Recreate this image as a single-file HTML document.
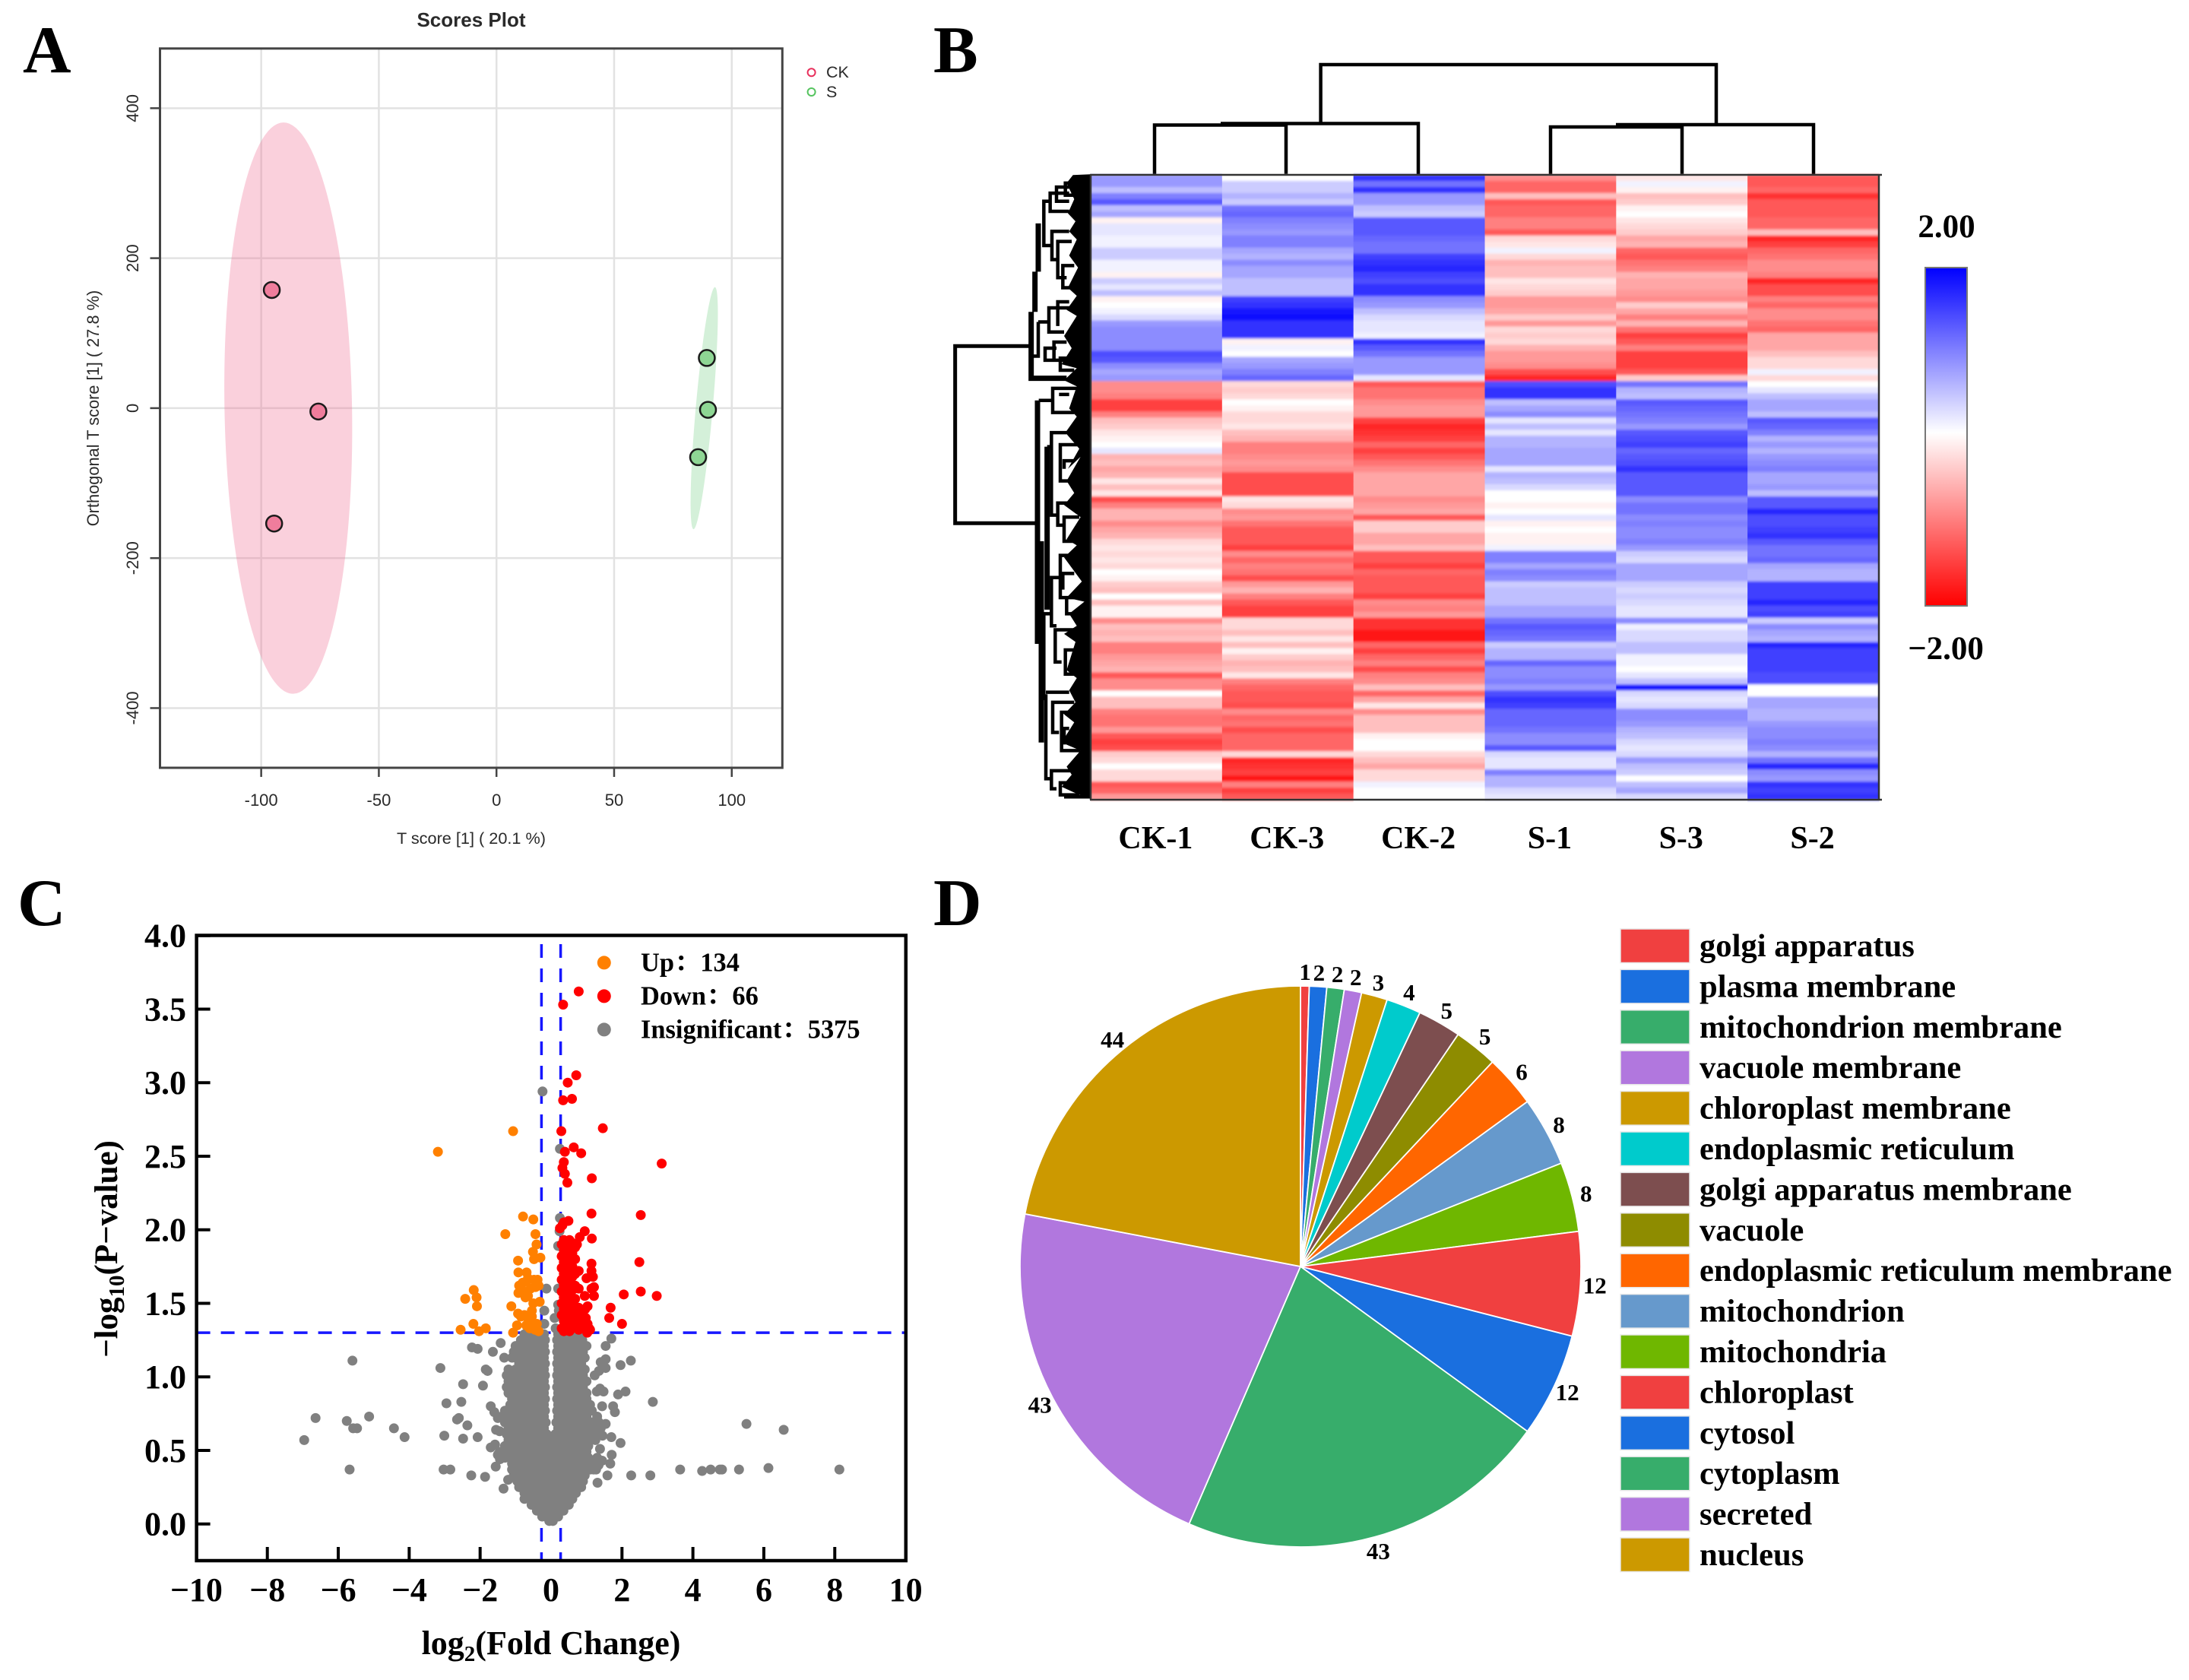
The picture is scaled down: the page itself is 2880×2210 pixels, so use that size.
<!DOCTYPE html>
<html lang="en">
<head>
<meta charset="utf-8">
<title>Metabolomics figure panels</title>
<style>
html,body{margin:0;padding:0;background:#fff;}
svg{display:block;}
.a{font-family:"Liberation Sans",Arial,sans-serif;fill:#2a2a2a;}
.t{font-family:"Liberation Serif","Noto Serif CJK SC",serif;font-weight:bold;fill:#000;}
</style>
</head>
<body>
<svg id="fig" xmlns="http://www.w3.org/2000/svg" width="2880" height="2210" viewBox="0 0 2880 2210">
<rect x="0" y="0" width="2880" height="2210" fill="#fff"/>
<text class="t" x="30" y="95" font-size="88">A</text>
<text class="t" x="1228" y="95" font-size="88">B</text>
<text class="t" x="23" y="1217" font-size="88">C</text>
<text class="t" x="1228" y="1217" font-size="88">D</text>

<g id="panelA"></g>

<g id="panelB">
  <defs>
    <filter id="rowSoften" x="0" y="-1%" width="100%" height="102%" filterUnits="objectBoundingBox">
      <feGaussianBlur stdDeviation="0 1.6"/>
    </filter>
    <linearGradient id="cbGrad" x1="0" y1="0" x2="0" y2="1">
      <stop offset="0" stop-color="#0000ff"/>
      <stop offset=".488" stop-color="#ffffff"/>
      <stop offset="1" stop-color="#ff0000"/>
    </linearGradient>
  </defs>
  <path fill="none" stroke="#000" stroke-width="4.5" d="M1519 230V164.5H1692V230M1606 162.5H1866V230M1737.6 162V85H2258V163M2040 230V167H2213V230M2126 164H2386V230"/>
  <g transform="translate(1240 225) scale(.33333 .52941)">
    <path fill="#000" d="M585 8L515 10L490 30L520 70L495 105L525 125L500 150L530 170L500 210L535 240L495 290L530 310L490 345L530 360L480 410L510 440L470 480L530 490L480 520L530 535L500 590L530 610L485 650L540 690L495 740L545 710L490 770L520 800L480 830L545 860L490 915L530 930L480 960L550 1020L490 1060L560 1070L500 1100L530 1130L480 1150L525 1170L490 1240L530 1260L500 1290L525 1320L480 1350L520 1370L470 1420L545 1440L490 1480L510 1500L470 1530L540 1550L585 1558Z"/>
    <path fill="none" stroke="#000" stroke-width="5" vector-effect="non-scaling-stroke" d="M345 435H50V875H370"/>
    <path fill="none" stroke="#000" stroke-width="7" vector-effect="non-scaling-stroke" d="M350 350V515H490M365 250V350M378 130V250M375 570V1175M390 920V1420M413 685V1090"/>
    <path fill="none" stroke="#000" stroke-width="4.5" vector-effect="non-scaling-stroke" d="M540 30H485V60H540M500 40H450V75H500M500 55H425V100H500M430 75H400V185H430M500 150H432V220H460M510 175H455V265H490M520 235H475V290H520M378 375H420M525 340H420V400H480M500 325H455V385M360 460H378V375M450 440H405V470H450M490 425H440V470H490M520 465H465V495H520M380 570H435M530 540H435V600H520M460 555H500M413 685H430M490 650H430V855H450M540 680H465V770H495M520 720H480V740M520 825H455V880H480M540 860H480V920H520M390 1100H430M400 1100V1315M460 1010H430V1130H450M510 955H465V1060H560M520 1000H475V1040M525 1100H490V1060M520 1140H445V1220H470M530 1190H485V1250H530M408 1300V1510H430M500 1295H408M520 1320H435V1395H460M510 1345H470V1440H545M500 1385H480V1425M510 1490H430V1535H450M540 1520H465V1550H540M480 1555H585"/>
  </g>
  <g id="heatCells" filter="url(#rowSoften)"></g>
  <path fill="none" stroke="#333" stroke-width="2.5" d="M1434 230H2476M1434 1052H2476M2472 230V1052M1435 230V1052"/>
  <g id="heatLabels"></g>
  <rect x="2533" y="352" width="55" height="445" fill="url(#cbGrad)" stroke="#777" stroke-width="2"/>
  <text class="t" x="2561" y="312" font-size="43" text-anchor="middle">2.00</text>
  <text class="t" x="2560" y="867" font-size="43" text-anchor="middle">−2.00</text>
</g>

<g id="panelC"></g>
<g id="panelD"></g>
</svg>

<script>
/* ---------- Panel A data ---------- */
var scoreXTicks = [-100, -50, 0, 50, 100];
var scoreYTicks = [400, 200, 0, -200, -400];
var ckScoreX = [-95.5, -75.7, -94.5];
var ckScoreY = [157.6, -4.5, -153.9];
var sScoreX = [89.4, 89.9, 85.7];
var sScoreY = [66.9, -2.2, -65.4];
var ckEllipse = [-88.5, 0, 27.1, 381, -1];
var sEllipse = [88.3, 0, 3.6, 162, 5.07];

/* ---------- Panel B data (z-score x 10, one value per row) ---------- */
var heatColumns = ['CK-1', 'CK-3', 'CK-2', 'S-1', 'S-3', 'S-2'];
var heatCK1 = [8,8,5,10,13,5,7,-1,2,2,1,1,4,4,1,1,-1,4,2,5,-1,0,1,3,8,9,9,9,9,14,13,9,7,8,-9,-9,-10,-15,-15,-10,-5,-4,-2,-1,0,2,-6,-5,-7,-6,-2,
-5,-2,-14,-10,-6,-6,-9,-7,-6,-3,-2,-3,-2,-3,0,-1,-4,-5,0,-5,-1,-1,-9,-5,-6,-5,-10,-10,-8,-7,-6,-13,-9,-9,0,-5,-5,-10,-11,-11,-8,-13,-15,-14,-4,-3,0,-3,-3,-13,-12,-8];
var heatCK3 = [0,4,4,6,4,11,12,10,9,8,10,10,7,6,9,7,7,5,5,5,15,16,18,19,16,16,16,-1,1,0,7,8,10,12,-3,-4,-3,0,-1,-3,-3,-2,-5,-6,-10,-10,-9,-8,-9,-14,-14,
-14,-14,-2,-3,-9,-8,-11,-13,-13,-13,-15,-9,-12,-10,-11,-14,-8,-6,-10,-13,-15,-15,-3,-3,-5,-2,-5,-1,-4,-6,-5,-2,-10,-12,-13,-13,-14,-9,-12,-11,-14,-12,-12,-12,-3,-17,-16,-15,-18,-10,-15,-13];
var heatCK2 = [16,11,16,8,8,5,4,13,13,13,12,11,11,15,16,17,15,14,16,16,9,8,5,3,2,2,1,16,13,11,8,8,8,2,-13,-11,-11,-9,-8,-8,-15,-17,-16,-15,-12,-15,-13,-11,-9,-7,-7,
-7,-7,-9,-8,-7,-13,-4,-4,-7,-7,-5,-13,-13,-15,-12,-13,-13,-13,-15,-9,-10,-8,-16,-16,-18,-18,-12,-15,-12,-10,-14,-10,-9,-5,-12,-7,-2,-9,-5,-5,-5,-1,0,0,-3,-5,-7,-3,-3,1,0,0];
var heatS1 = [-9,-12,-12,-5,-13,-12,-12,-10,-10,-13,-3,-2,1,-3,-6,-5,-5,-2,-3,-4,-8,-8,-7,-4,-8,-3,-4,-3,-6,-8,-8,-9,-14,-17,14,16,16,5,7,9,2,5,2,6,6,7,7,7,2,6,5,
3,0,0,-1,0,2,-1,0,-1,-1,1,10,10,7,10,9,4,5,5,5,7,7,11,13,12,11,4,6,6,12,9,9,10,8,14,16,15,12,12,12,11,9,9,13,3,2,2,10,6,6,3,2];
var heatS3 = [-2,1,-1,-5,-4,-1,0,-2,-3,-4,-7,-6,-12,-13,-11,-10,-6,-7,-7,-8,-9,-4,-7,-10,-6,-11,-15,-13,-10,-15,-15,-15,-13,-4,11,6,5,13,12,11,10,8,13,14,15,12,13,14,16,13,13,
13,13,9,11,11,9,10,9,9,10,8,4,3,7,7,7,4,3,4,3,2,2,9,1,3,3,5,5,1,1,0,2,5,18,3,2,3,9,9,8,6,5,3,2,3,8,5,4,0,5,7,3];
var heatS2 = [-13,-13,-12,-16,-13,-13,-13,-12,-12,-5,-17,-15,-12,-11,-9,-9,-10,-17,-14,-14,-10,-12,-9,-9,-11,-12,-7,-7,-7,-5,-3,-3,1,-3,0,2,5,7,7,5,13,12,10,6,8,6,8,9,10,7,7,
8,5,13,13,17,14,14,15,16,13,11,11,12,7,6,6,15,15,15,17,14,15,4,9,7,6,17,15,15,15,15,14,14,0,0,7,7,6,6,8,9,9,10,9,6,11,17,9,8,16,15,16];

/* ---------- Panel C data ---------- */
var volcanoXTicks = [-10, -8, -6, -4, -2, 0, 2, 4, 6, 8, 10];
var volcanoYTicks = [0, 0.5, 1, 1.5, 2, 2.5, 3, 3.5, 4];
var foldChangeCut = [-0.27, 0.27];
var pValueCut = [1.3];
var legendCounts = [134, 66, 5375];
var upPoints = [[-3.19,2.53],[-1.07,2.67],[-.79,2.09],[-.5,2.07],[-1.29,1.97],[-.44,1.97],[-.41,1.9],[-.51,1.85],[-.3,1.81],[-.48,1.8],[-.93,1.79],[-.92,1.71],[-.69,1.71],[-.65,1.67],[-.9,1.62],[-.8,1.64],[-.69,1.65],[-.48,1.66],[-.38,1.66],[-.35,1.62],[-.92,1.57],[-.65,1.55],[-.72,1.54],[-.84,1.6],[-.76,1.58],[-.58,1.6],[-.44,1.61],[-2.18,1.59],[-2.42,1.53],[-2.1,1.54],[-2.09,1.48],[-1.12,1.48],[-.5,1.5],[-.32,1.51],[-.93,1.43],[-.75,1.42],[-.54,1.45],[-.54,1.41],[-.64,1.37],[-.5,1.36],[-.4,1.36],[-.7,1.35],[-.6,1.33],[-.45,1.32],[-2.19,1.36],[-2.55,1.32],[-2.03,1.31],[-1.84,1.33],[-.96,1.35],[-1.07,1.3],[-.35,1.31],[-.85,1.41]];
var downPoints = [[.78,3.62],[.34,3.53],[.71,3.05],[.47,3],[.59,2.89],[.34,2.88],[.29,2.67],[1.46,2.69],[.64,2.56],[.85,2.52],[.39,2.53],[3.12,2.45],[.36,2.46],[.32,2.42],[.39,2.38],[1.15,2.35],[.46,2.32],[1.14,2.11],[2.53,2.1],[.49,2.06],[.36,2.05],[.32,2.03],[.25,2.01],[.95,1.99],[1.15,1.94],[.81,1.95],[.73,1.9],[2.49,1.78],[2.53,1.58],[2.98,1.55],[2.05,1.56],[1.68,1.47],[1.64,1.4],[2,1.36],[1.14,1.77],[1.14,1.72],[1.18,1.68],[1,1.67],[1.21,1.61],[1.14,1.6],[1.21,1.55],[.95,1.55],[1.03,1.48],[.96,1.46],[.75,1.38],[1.03,1.36],[1.07,1.33],[.75,1.34],
[.3,1.33],[.3,1.42],[.3,1.5],[.3,1.58],[.3,1.66],[.3,1.74],[.3,1.82],[.3,1.9],[.36,1.31],[.36,1.38],[.36,1.46],[.36,1.54],[.36,1.62],[.36,1.7],[.36,1.78],[.36,1.86],[.36,1.93],[.44,1.34],[.44,1.41],[.44,1.49],[.44,1.57],[.44,1.65],[.44,1.73],[.44,1.81],[.44,1.89],[.52,1.31],[.52,1.39],[.52,1.47],[.52,1.55],[.52,1.63],[.52,1.71],[.52,1.79],[.52,1.87],[.52,1.93],[.6,1.33],[.6,1.42],[.6,1.5],[.6,1.59],[.6,1.68],[.6,1.75],[.6,1.84],[.6,1.91],[.68,1.35],[.68,1.44],[.68,1.53],[.68,1.62],[.68,1.7],[.68,1.8],[.68,1.88],[.78,1.32],[.78,1.42],[.78,1.47],[.78,1.6],[.78,1.72],[.85,1.36],[.9,1.45],[.95,1.33],[.98,1.4],[1.02,1.3],[1.1,1.32]];
var insigScatter = [[-5.6,1.11],[-3.12,1.06],[-2.23,1.2],[-2.07,1.19],[-1.42,1.23],[-1.64,1.17],[-1.32,1.13],[-1.84,1.05],[-1.79,1.04],[-2.48,.95],[-1.92,.94],[-2.95,.82],[-2.53,.83],[-6.64,.72],[-5.76,.7],[-5.13,.73],[-5.58,.65],[-5.47,.65],[-4.43,.65],[-4.13,.59],[-6.96,.57],[-2.65,.71],[-2.6,.72],[-2.36,.67],[-3.01,.6],[-2.48,.58],[-2.07,.59],[-5.68,.37],[-3.03,.37],[-2.84,.37],[-2.25,.33],[-1.86,.32],[-1.56,.39],[-1.21,.3],[-1.34,.24],[-1.7,.52],[-1.58,.54],[-1.5,.47],[-1.44,.44],[-1.7,.8],[-1.6,.76],[-1.5,.72],[-1.55,.64],[-1.45,.63],
[1.7,1.26],[1.54,1.21],[2.25,1.11],[1.96,1.08],[1.54,1.12],[1.4,1.1],[1.54,1.06],[1.35,1.04],[1.23,1.01],[1.38,.92],[1.48,.9],[1.29,.9],[2.1,.9],[1.89,.88],[2.87,.83],[1.8,.76],[1.75,.8],[1.44,.8],[1.54,.68],[1.45,.6],[1.7,.59],[1.96,.55],[1.38,.51],[1.71,.47],[1.67,.41],[1.27,.37],[1.44,.43],[1.34,.4],[1.59,.33],[1.31,.28],[2.26,.33],[2.8,.33],[3.64,.37],[4.26,.36],[4.5,.37],[4.76,.37],[4.82,.37],[5.3,.37],[6.13,.38],[8.13,.37],[5.51,.68],[6.56,.64],
[-.24,2.94],[.25,2.55],[.25,2.08],[.24,1.99],[.2,1.89],[-.13,1.6],[.2,1.6],[.2,1.49],[-.19,1.45],[.22,1.45],[.1,1.4],[-.19,1.36],[.13,1.33]];
var insigRowY = [1.29,1.25,1.21,1.17,1.13,1.09,1.05,1.01,.97,.93,.89,.85,.81,.77,.73,.69,.65,.61,.57,.53,.49,.45,.41,.37,.33,.29,.25,.21,.17,.13,.09,.05,.02];
var insigRowX = [
[-.75,-.55,-.35,-.2,.2,.4,.6,.8],
[-.85,-.65,-.45,-.3,-.17,.17,.3,.5,.7,.88],
[-1,-.8,-.6,-.4,-.2,.2,.4,.6,.8,1],
[-1.05,-.9,-.7,-.5,-.3,-.17,.17,.3,.5,.7,.9],
[-1.1,-1,-.8,-.6,-.4,-.2,.2,.4,.6,.8,.95],
[-.9,-.7,-.5,-.3,-.17,.17,.3,.5,.7,.85],
[-1.2,-1,-.8,-.6,-.4,-.2,.2,.4,.6,.8,.95],
[-1.25,-1.1,-.9,-.7,-.5,-.3,-.17,.17,.3,.5,.7,.9],
[-1.2,-1,-.8,-.6,-.4,-.2,.2,.4,.6,.8,1],
[-1.25,-1.1,-.9,-.7,-.5,-.3,-.17,.17,.3,.5,.7,.9],
[-1.2,-1,-.8,-.6,-.4,-.2,.2,.4,.6,.8,1],
[-1.1,-.9,-.7,-.5,-.3,-.17,.17,.3,.5,.7,.9,1],
[-1.15,-1,-.8,-.6,-.4,-.2,.2,.4,.6,.8,1,1.1],
[-1.3,-1.1,-.9,-.7,-.5,-.3,-.17,.17,.3,.5,.7,.9,1.15],
[-1.4,-1.2,-1,-.8,-.6,-.4,-.2,.2,.4,.6,.8,1,1.3],
[-1.3,-1.1,-.9,-.7,-.5,-.3,-.15,.15,.3,.5,.7,.9,1.15,1.35],
[-1.2,-1,-.8,-.6,-.4,-.2,.2,.4,.6,.8,1,1.2,1.4],
[-1.25,-1.1,-.9,-.7,-.5,-.3,-.12,.12,.3,.5,.7,.9,1.1,1.3],
[-1.2,-1,-.8,-.6,-.4,-.2,0,.2,.4,.6,.8,1,1.25],
[-1.3,-1.1,-.9,-.7,-.5,-.3,-.1,.1,.3,.5,.7,.9,1.05],
[-1.45,-1.2,-1,-.8,-.6,-.4,-.2,0,.2,.4,.6,.8,1],
[-1.3,-1.1,-.9,-.7,-.5,-.3,-.1,.1,.3,.5,.7,.9,1.05,1.3],
[-1.1,-1,-.8,-.6,-.4,-.2,0,.2,.4,.6,.8,1,1.25],
[-1.1,-.9,-.7,-.5,-.3,-.1,.1,.3,.5,.7,.9,1.1,1.2],
[-1.05,-.8,-.6,-.4,-.2,0,.2,.4,.6,.8,.95],
[-.95,-.7,-.5,-.3,-.1,.1,.3,.5,.7,.9],
[-.9,-.8,-.6,-.4,-.2,0,.2,.4,.6,.85],
[-.75,-.5,-.3,-.1,.1,.3,.5,.7],
[-.75,-.6,-.4,-.2,0,.2,.4,.6],
[-.55,-.3,-.1,.1,.3,.5],
[-.4,-.2,0,.2,.35],
[-.25,-.15,.05,.2],
[-.05,.05]];

/* ---------- Panel D data ---------- */
var pieCategories = ['golgi apparatus','plasma membrane','mitochondrion membrane','vacuole membrane','chloroplast membrane','endoplasmic reticulum','golgi apparatus membrane','vacuole','endoplasmic reticulum membrane','mitochondrion','mitochondria','chloroplast','cytosol','cytoplasm','secreted','nucleus'];
var pieValues = [1,2,2,2,3,4,5,5,6,8,8,12,12,43,43,44];
var pieColors = ['#f04040','#1a6fdf','#37ad6b','#b177de','#cc9900','#00cbcc','#7d4e4f','#8e8c00','#ff6600','#6699cc','#6fb700','#f04040','#1a6fdf','#37ad6b','#b177de','#cc9900'];

/* ---------- helpers ---------- */
var NS = 'http://www.w3.org/2000/svg';
function make(tag, props, parent) {
  var el = document.createElementNS(NS, tag);
  for (var k in props) { el.setAttribute(k, props[k]); }
  parent.appendChild(el);
  return el;
}
var el;

/* ---------- Panel A ---------- */
var gA = document.getElementById('panelA');
var aLeft = 210.5, aRight = 1029.3, aTop = 63.8, aBottom = 1010;
function ax(v) { return 653.2 + 3.0955 * v; }
function ay(v) { return 536.9 - 0.9864 * v; }
scoreXTicks.forEach(function (t) {
  el = make('line', {x1: ax(t), x2: ax(t), y1: aTop, y2: aBottom, stroke: '#e2e2e2', 'stroke-width': 2.5}, gA);
  
  
});
scoreYTicks.forEach(function (t) {
  el = make('line', {x1: aLeft, x2: aRight, y1: ay(t), y2: ay(t), stroke: '#e2e2e2', 'stroke-width': 2.5}, gA);
  
  
});
function drawEllipse(p, fill) {
  var cx = ax(p[0]), cy = ay(p[1]);
  return make('ellipse', {cx: cx, cy: cy, rx: p[2] * 3.0955, ry: p[3] * 0.9864, fill: fill, transform: 'rotate(' + p[4] + ' ' + cx + ' ' + cy + ')'}, gA);
}
el = drawEllipse(ckEllipse, 'rgba(240,100,140,.3)');


el = drawEllipse(sEllipse, 'rgba(100,200,120,.28)');


ckScoreX.forEach(function (x, i) {
  el = make('circle', {cx: ax(x), cy: ay(ckScoreY[i]), r: 10.5, fill: '#ef7d9c', stroke: '#1a1a1a', 'stroke-width': 2.5}, gA);
  
  
});
sScoreX.forEach(function (x, i) {
  el = make('circle', {cx: ax(x), cy: ay(sScoreY[i]), r: 10.5, fill: '#8ed694', stroke: '#1a1a1a', 'stroke-width': 2.5}, gA);
  
  
});
el = make('rect', {x: aLeft, y: aTop, width: aRight - aLeft, height: aBottom - aTop, fill: 'none', stroke: '#444', 'stroke-width': 3}, gA);


scoreXTicks.forEach(function (t) {
  el = make('line', {x1: ax(t), x2: ax(t), y1: aBottom, y2: aBottom + 12, stroke: '#444', 'stroke-width': 2.5}, gA);
  
  
  el = make('text', {x: ax(t), y: 1060, 'font-size': 22, 'text-anchor': 'middle', 'class': 'a'}, gA);
  el.textContent = t;
  
  
});
scoreYTicks.forEach(function (t) {
  el = make('line', {x1: aLeft - 13, x2: aLeft, y1: ay(t), y2: ay(t), stroke: '#444', 'stroke-width': 2.5}, gA);
  
  
  el = make('text', {transform: 'translate(182 ' + ay(t) + ') rotate(-90)', 'font-size': 22, 'text-anchor': 'middle', 'class': 'a'}, gA);
  el.textContent = t;
  
  
});
el = make('text', {x: 620, y: 35, 'font-size': 26, 'font-weight': 'bold', 'text-anchor': 'middle', 'class': 'a'}, gA);
el.textContent = 'Scores Plot';


el = make('text', {x: 620, y: 1110, 'font-size': 21.7, 'text-anchor': 'middle', 'class': 'a'}, gA);
el.textContent = 'T score [1] ( 20.1 %)';


el = make('text', {transform: 'translate(130 537) rotate(-90)', 'font-size': 21.8, 'text-anchor': 'middle', 'class': 'a'}, gA);
el.textContent = 'Orthogonal T score [1] ( 27.8 %)';


el = make('circle', {cx: 1067.6, cy: 95.3, r: 5, fill: 'none', stroke: '#e8305c', 'stroke-width': 2}, gA);


el = make('circle', {cx: 1067.6, cy: 121, r: 5, fill: 'none', stroke: '#55c45f', 'stroke-width': 2}, gA);


el = make('text', {x: 1087, y: 102, 'font-size': 21.5, 'class': 'a'}, gA);
el.textContent = 'CK';


el = make('text', {x: 1087, y: 128, 'font-size': 21.5, 'class': 'a'}, gA);
el.textContent = 'S';



/* ---------- Panel B ---------- */
var heatCells = document.getElementById('heatCells');
var heatLabels = document.getElementById('heatLabels');
var heatData = [heatCK1, heatCK3, heatCK2, heatS1, heatS3, heatS2];
var hLeft = 1435, hTop = 230, hWidth = 1037, hHeight = 822;
function heatX(i) { return hLeft + i * hWidth / heatColumns.length; }
function heatY(r, n) { return hTop + r * hHeight / n; }
function heatColor(v) {
  var t = Math.min(1, Math.abs(v) / 20);
  var c = Math.round(255 * (1 - t));
  return v >= 0 ? 'rgb(' + c + ',' + c + ',255)' : 'rgb(255,' + c + ',' + c + ')';
}
heatData.forEach(function (col, i) {
  col.forEach(function (v, r) {
    el = make('rect', {x: heatX(i), y: heatY(r, col.length), width: hWidth / heatColumns.length + .5, height: hHeight / col.length + .5, fill: heatColor(v)}, heatCells);
    
    
  });
  el = make('text', {x: heatX(i) + hWidth / heatColumns.length / 2 - 1, y: 1116, 'font-size': 42, 'text-anchor': 'middle', 'class': 't'}, heatLabels);
  el.textContent = heatColumns[i];
  
  
});

/* ---------- Panel C ---------- */
var gC = document.getElementById('panelC');
var cLeft = 258.6, cRight = 1191.8, cTop = 1230.5, cBottom = 2053;
function vx(v) { return 725 + 46.66 * v; }
function vy(v) { return 2004.7 - 193.5 * v; }
foldChangeCut.forEach(function (t) {
  el = make('line', {x1: vx(t), x2: vx(t), y1: 1242, y2: cBottom, stroke: '#1616ff', 'stroke-width': 3.5, 'stroke-dasharray': '18 14'}, gC);
  
  
});
pValueCut.forEach(function (t) {
  el = make('line', {x1: cLeft, x2: cRight, y1: vy(t), y2: vy(t), stroke: '#1616ff', 'stroke-width': 3.5, 'stroke-dasharray': '18 14'}, gC);
  
  
});
function dot(x, y, fill) {
  return make('circle', {cx: vx(x), cy: vy(y), r: 6.5, fill: fill}, gC);
}
insigRowX.forEach(function (row, i) {
  row.forEach(function (x) {
    el = dot(x, insigRowY[i], '#808080');
    
    
  });
});
insigScatter.forEach(function (p) {
  el = dot(p[0], p[1], '#808080');
  
  
});
upPoints.forEach(function (p) {
  el = dot(p[0], p[1], '#ff8000');
  
  
});
downPoints.forEach(function (p) {
  el = dot(p[0], p[1], '#ff0000');
  
  
});
el = make('rect', {x: cLeft, y: cTop, width: cRight - cLeft, height: cBottom - cTop, fill: 'none', stroke: '#000', 'stroke-width': 4.5}, gC);


volcanoXTicks.forEach(function (t) {
  if (t > -10 && t < 10 && t !== 0) {
    el = make('line', {x1: vx(t), x2: vx(t), y1: cBottom - 18, y2: cBottom, stroke: '#000', 'stroke-width': 4}, gC);
    
    
  }
  el = make('text', {x: vx(t), y: 2106, 'font-size': 44, 'text-anchor': 'middle', 'class': 't'}, gC);
  el.textContent = String(t).replace('-', '−');
  
  
});
volcanoYTicks.forEach(function (t) {
  el = make('line', {x1: cLeft, x2: cLeft + 18, y1: vy(t), y2: vy(t), stroke: '#000', 'stroke-width': 4}, gC);
  
  
  el = make('text', {x: 245, y: vy(t) + 15, 'font-size': 44, 'text-anchor': 'end', 'class': 't'}, gC);
  el.textContent = t.toFixed(1);
  
  
});
var legendNames = ['Up', 'Down', 'Insignificant'];
var legendDotColors = ['#ff8000', '#ff0000', '#808080'];
legendNames.forEach(function (n, i) {
  var y = 1266.4 + i * 44;
  el = make('circle', {cx: 794.8, cy: y, r: 9, fill: legendDotColors[i]}, gC);
  
  
  el = make('text', {x: 843, y: y + 11, 'font-size': 34.4, 'class': 't'}, gC);
  el.textContent = n + '：' + legendCounts[i];
  
  
});
el = make('text', {x: 725, y: 2176, 'font-size': 44, 'text-anchor': 'middle', 'class': 't'}, gC);
el.innerHTML = 'log<tspan font-size="29" dy="9">2</tspan><tspan dy="-9">(Fold Change)</tspan>';


el = make('text', {transform: 'translate(154 1643) rotate(-90)', 'font-size': 43, 'text-anchor': 'middle', 'class': 't'}, gC);
el.innerHTML = '−log<tspan font-size="29" dy="9">10</tspan><tspan dy="-9">(P−value)</tspan>';



/* ---------- Panel D ---------- */
var gD = document.getElementById('panelD');
var pieCx = 1711, pieCy = 1666, pieR = 369, labelR = 388;
var pieTotal = pieValues.reduce(function (a, b) { return a + b; }, 0);
function polar(frac, r) {
  var ang = frac * 2 * Math.PI;
  return [pieCx + r * Math.sin(ang), pieCy - r * Math.cos(ang)];
}
var cum = 0;
pieValues.forEach(function (v, i) {
  var f0 = cum / pieTotal, f1 = (cum + v) / pieTotal, mid = (f0 + f1) / 2;
  var a = polar(f0, pieR), b = polar(f1, pieR), large = (f1 - f0) > 0.5 ? 1 : 0;
  el = make('path', {d: 'M' + pieCx + ' ' + pieCy + 'L' + a[0] + ' ' + a[1] + 'A' + pieR + ' ' + pieR + ' 0 ' + large + ' 1 ' + b[0] + ' ' + b[1] + 'Z', fill: pieColors[i], stroke: '#fff', 'stroke-width': 1.8}, gD);
  
  
  var lp = polar(mid, labelR);
  el = make('text', {x: lp[0], y: lp[1] + 11, 'font-size': 31, 'text-anchor': 'middle', 'class': 't'}, gD);
  el.textContent = v;
  
  
  cum += v;
});
pieCategories.forEach(function (n, i) {
  var y = 1222 + i * 53.4;
  el = make('rect', {x: 2132, y: y, width: 91, height: 44.5, fill: pieColors[i], stroke: '#e8e8e8', 'stroke-width': 1.5}, gD);
  
  
  el = make('text', {x: 2236, y: y + 36, 'font-size': 42.6, 'class': 't'}, gD);
  el.textContent = n;
  
  
});
</script>
</body>
</html>
